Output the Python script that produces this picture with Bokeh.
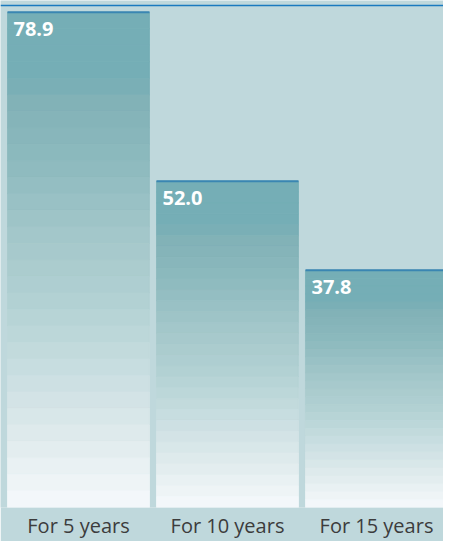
from bokeh.plotting import figure
from bokeh.models import Range1d, FixedTicker, Span, ColumnDataSource
from bokeh.embed import file_html
from bokeh.resources import INLINE
from bokeh.core.properties import value

categories = ["For 5 years", "For 10 years", "For 15 years"]
values = [78.9, 52.0, 37.8]
value_labels = ["78.9", "52.0", "37.8"]

BG = "#bfd8dc"
BAR_W = 0.953
N_BANDS = 30
stops = [
    (0.0, (117, 174, 182)),
    (0.14, (117, 174, 182)),
    (0.16, (128, 176, 182)),
    (0.30, (140, 186, 190)),
    (0.45, (163, 199, 202)),
    (0.60, (180, 210, 212)),
    (0.75, (205, 224, 227)),
    (0.90, (230, 239, 241)),
    (1.0, (246, 249, 252)),
]


def color_at(t):
    for (t0, c0), (t1, c1) in zip(stops[:-1], stops[1:]):
        if t0 <= t <= t1:
            f = 0 if t1 == t0 else (t - t0) / (t1 - t0)
            c = [round(a + (b - a) * f) for a, b in zip(c0, c1)]
            return "#%02x%02x%02x" % tuple(c)
    return "#%02x%02x%02x" % stops[-1][1]


p = figure(width=443, height=541, output_backend="svg", toolbar_location=None,
           x_range=Range1d(-0.5235, 2.4497), y_range=Range1d(0, 80.79),
           min_border_left=0, min_border_right=0, min_border_top=0,
           min_border_bottom=28)
p.background_fill_color = BG
p.border_fill_color = BG
p.outline_line_color = None
p.grid.visible = False
p.yaxis.visible = False

# gradient bands
left, right, top, bottom, colors = [], [], [], [], []
for i, v in enumerate(values):
    for k in range(N_BANDS):
        left.append(i - BAR_W / 2)
        right.append(i + BAR_W / 2)
        top.append(v * (1 - k / N_BANDS))
        bottom.append(v * (1 - (k + 1) / N_BANDS))
        colors.append(color_at((k + 0.5) / N_BANDS))
p.quad(left=left, right=right, top=top, bottom=bottom, fill_color=colors,
       line_color=colors, line_width=0.8)

xs = list(range(len(values)))
src = ColumnDataSource(dict(
    x0=[i - BAR_W / 2 for i in xs], x1=[i + BAR_W / 2 for i in xs],
    y=values, lab=value_labels))
p.segment(x0="x0", y0="y", x1="x1", y1="y", source=src,
          line_color="#3a86b2", line_width=2)
p.text(x="x0", y="y", text="lab", source=src, x_offset=6, y_offset=10,
       text_baseline="top", text_align="left", text_color="white",
       text_font=value("Open Sans"), text_font_style="bold",
       text_font_size="20px")

p.add_layout(Span(location=80, dimension="width", line_color="#1a7abf",
                  line_width=1.5))

p.xaxis.ticker = FixedTicker(ticks=xs)
p.xaxis.major_label_overrides = {i: c for i, c in enumerate(categories)}
p.xaxis.axis_line_color = None
p.xaxis.major_tick_line_color = None
p.xaxis.minor_tick_line_color = None
p.xaxis.major_tick_out = 0
p.xaxis.major_tick_in = 0
p.xaxis.major_label_standoff = 4
p.xaxis.major_label_text_font = "Open Sans"
p.xaxis.major_label_text_font_size = "20px"
p.xaxis.major_label_text_color = "#3c3c3c"

open("out.html", "w").write(file_html(p, INLINE))
